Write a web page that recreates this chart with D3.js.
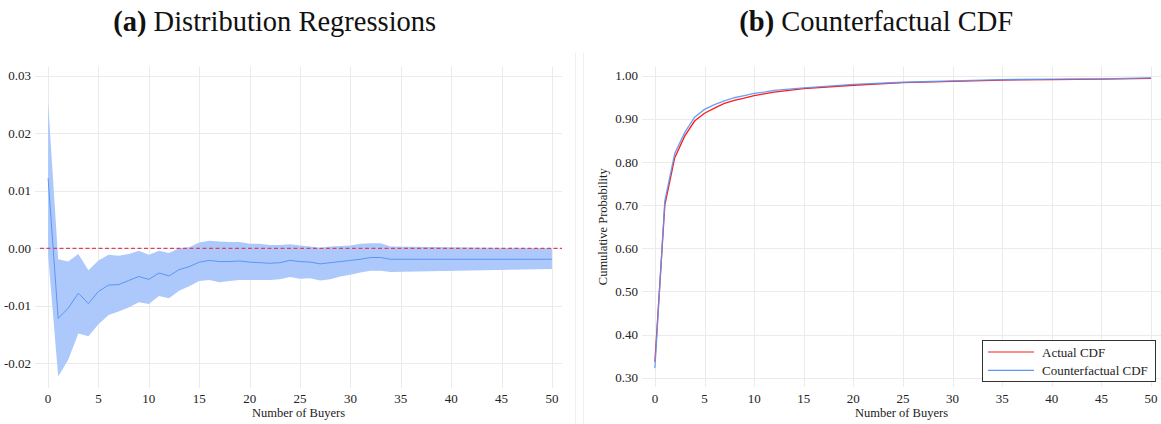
<!DOCTYPE html>
<html>
<head>
<meta charset="utf-8">
<script src="https://cdn.jsdelivr.net/npm/d3@7"></script>
<style>
  body { margin: 0; background: #fff; }
  svg { display: block; font-family: "Liberation Serif", "Times New Roman", serif; }
  .grid line { stroke: #ebebeb; stroke-width: 1; }
  .tick-label { font-size: 13px; fill: #222; }
  .axis-title { font-size: 12.5px; fill: #222; }
  .title { font-size: 28.5px; fill: #111; }
</style>
</head>
<body>
<svg id="chart" width="1161" height="424"></svg>
<script>
/*
 * Data
 */

// (a) Distribution regressions: buyers, estimate, 95% band
var REG_BUYERS = [0, 1, 2, 3, 4, 5, 6, 7, 8, 9, 10, 11, 12, 13, 14, 15, 16, 17,
  18, 19, 20, 21, 22, 23, 24, 25, 26, 27, 28, 29, 30, 31, 32, 33, 34, 50];
var REG_EST = [0.0122, -0.0122, -0.0104, -0.0078, -0.0096, -0.0075, -0.0064,
  -0.0063, -0.0056, -0.0049, -0.0054, -0.0043, -0.0048, -0.0037, -0.0032,
  -0.0024, -0.0021, -0.0023, -0.0023, -0.0022, -0.0024, -0.0025, -0.0026,
  -0.0025, -0.0021, -0.0023, -0.0024, -0.0027, -0.0025, -0.0023, -0.0021,
  -0.0019, -0.0016, -0.0016, -0.0019, -0.0019];
var REG_UPPER = [0.0255, -0.0019, -0.0023, -0.0010, -0.0038, -0.0021, -0.0011,
  -0.0013, -0.0010, -0.0004, -0.0011, -0.0004, -0.0008, 0.0000, 0.0002,
  0.0010, 0.0013, 0.0012, 0.0011, 0.0011, 0.0008, 0.0008, 0.0006, 0.0006,
  0.0007, 0.0005, 0.0003, 0.0001, 0.0003, 0.0004, 0.0005, 0.0008, 0.0009,
  0.0009, 0.0003, 0.0000];
var REG_LOWER = [-0.0012, -0.0223, -0.0194, -0.0148, -0.0153, -0.0132, -0.0116,
  -0.0110, -0.0103, -0.0094, -0.0097, -0.0083, -0.0087, -0.0074, -0.0066,
  -0.0057, -0.0055, -0.0059, -0.0057, -0.0055, -0.0055, -0.0055, -0.0055,
  -0.0054, -0.0050, -0.0053, -0.0052, -0.0056, -0.0054, -0.0049, -0.0046,
  -0.0042, -0.0039, -0.0039, -0.0041, -0.0036];

// (b) Counterfactual CDF
var CDF_BUYERS = [0, 1, 2, 3, 4, 5, 6, 7, 8, 9, 10, 11, 12, 15, 20, 25, 30, 35,
  40, 45, 50];
var CDF_ACTUAL = [0.337, 0.700, 0.810, 0.860, 0.895, 0.913, 0.925, 0.936,
  0.943, 0.948, 0.954, 0.958, 0.962, 0.970, 0.978, 0.984, 0.987, 0.990,
  0.991, 0.992, 0.994];
var CDF_COUNTER = [0.322, 0.710, 0.820, 0.868, 0.904, 0.922, 0.933, 0.942,
  0.949, 0.954, 0.959, 0.962, 0.966, 0.972, 0.980, 0.985, 0.988, 0.991,
  0.992, 0.993, 0.995];

// Ticks
var X_TICKS = [0, 5, 10, 15, 20, 25, 30, 35, 40, 45, 50];
var REG_Y_TICKS = [-0.02, -0.01, 0.00, 0.01, 0.02, 0.03];
var CDF_Y_TICKS = [0.30, 0.40, 0.50, 0.60, 0.70, 0.80, 0.90, 1.00];

var LEGEND_LABELS = ["Actual CDF", "Counterfactual CDF"];

/*
 * Style constants
 */
var RED = "#ff1a1a";
var BLUE = "#5b95f5";
var BAND = "#adc9fb";
var ZERO_LINE = "#d9435e";

var svg = d3.select("#chart");

// panel separators
svg.append("line").attr("x1", 575.5).attr("x2", 575.5).attr("y1", 53).attr("y2", 424)
  .attr("stroke", "#efefef");
svg.append("line").attr("x1", 583.5).attr("x2", 583.5).attr("y1", 53).attr("y2", 424)
  .attr("stroke", "#efefef");

function draw_panel(opts) {
  var x = d3.scaleLinear().domain([-1.3, 51.0]).range(opts.xrange);
  var y = d3.scaleLinear().domain(opts.ydomain).range(opts.yrange);
  var g = svg.append("g");

  // grid
  var grid = g.append("g").attr("class", "grid");
  grid.selectAll(".h").data(opts.yticks).enter().append("line")
    .attr("x1", opts.xrange[0]).attr("x2", opts.xrange[1])
    .attr("y1", function (d) { return Math.round(y(d)) + 0.5; })
    .attr("y2", function (d) { return Math.round(y(d)) + 0.5; });
  grid.selectAll(".v").data(X_TICKS).enter().append("line")
    .attr("y1", opts.yrange[1]).attr("y2", opts.yrange[0])
    .attr("x1", function (d) { return Math.round(x(d)) + 0.5; })
    .attr("x2", function (d) { return Math.round(x(d)) + 0.5; });

  // tick labels
  g.selectAll(".ylab").data(opts.yticks).enter().append("text")
    .attr("class", "tick-label")
    .attr("x", opts.xrange[0] - 4)
    .attr("y", function (d) { return y(d); })
    .attr("dy", "0.35em")
    .attr("text-anchor", "end")
    .text(opts.yfmt);
  g.selectAll(".xlab").data(X_TICKS).enter().append("text")
    .attr("class", "tick-label")
    .attr("x", function (d) { return x(d); })
    .attr("y", 403)
    .attr("text-anchor", "middle")
    .text(function (d) { return d; });

  // axis title
  g.append("text").attr("class", "axis-title")
    .attr("x", (opts.xrange[0] + opts.xrange[1]) / 2)
    .attr("y", 417)
    .attr("text-anchor", "middle")
    .text("Number of Buyers");

  // panel title
  var t = g.append("text").attr("class", "title")
    .attr("x", opts.title_x).attr("y", 31)
    .attr("text-anchor", "middle");
  t.append("tspan").attr("font-weight", "bold").text(opts.tag);
  t.append("tspan").text(" " + opts.title);

  return { g: g, x: x, y: y };
}

/*
 * (a) Distribution Regressions
 */
var A = draw_panel({
  xrange: [35, 562],
  ydomain: [-0.0243, 0.0316],
  yrange: [388, 66.7],
  yticks: REG_Y_TICKS,
  yfmt: function (d) { return d3.format(".2f")(d).replace("−", "-"); },
  title_x: 274.7,
  tag: "(a)",
  title: "Distribution Regressions"
});

var band = d3.area()
  .x(function (d, i) { return A.x(REG_BUYERS[i]); })
  .y0(function (d, i) { return A.y(REG_LOWER[i]); })
  .y1(function (d, i) { return A.y(REG_UPPER[i]); });
A.g.append("path").datum(REG_BUYERS)
  .attr("d", band)
  .attr("fill", BAND)
  .attr("stroke", "none");

A.g.append("line")
  .attr("x1", 40).attr("x2", 562)
  .attr("y1", A.y(0)).attr("y2", A.y(0))
  .attr("stroke", ZERO_LINE)
  .attr("stroke-width", 1.3)
  .attr("stroke-dasharray", "4,2.5");

var est_line = d3.line()
  .x(function (d, i) { return A.x(REG_BUYERS[i]); })
  .y(function (d) { return A.y(d); });
A.g.append("path").datum(REG_EST)
  .attr("d", est_line)
  .attr("fill", "none")
  .attr("stroke", BLUE)
  .attr("stroke-width", 1);

/*
 * (b) Counterfactual CDF
 */
var B = draw_panel({
  xrange: [642, 1161],
  ydomain: [0.279, 1.021],
  yrange: [386.7, 66.7],
  yticks: CDF_Y_TICKS,
  yfmt: d3.format(".2f"),
  title_x: 876.3,
  tag: "(b)",
  title: "Counterfactual CDF"
});

B.g.append("text").attr("class", "axis-title")
  .attr("transform", "translate(607," + ((66.7 + 386.7) / 2) + ") rotate(-90)")
  .attr("text-anchor", "middle")
  .text("Cumulative Probability");

var cdf_line = d3.line()
  .x(function (d, i) { return B.x(CDF_BUYERS[i]); })
  .y(function (d) { return B.y(d); });
B.g.append("path").datum(CDF_ACTUAL)
  .attr("d", cdf_line)
  .attr("fill", "none")
  .attr("stroke", RED)
  .attr("stroke-width", 1.3);
B.g.append("path").datum(CDF_COUNTER)
  .attr("d", cdf_line)
  .attr("fill", "none")
  .attr("stroke", BLUE)
  .attr("stroke-width", 1.3)
  .attr("stroke-opacity", 0.9);

// legend
var leg = B.g.append("g").attr("transform", "translate(982,340)");
leg.append("rect")
  .attr("x", 0.5).attr("y", 0.5)
  .attr("width", 173).attr("height", 41)
  .attr("fill", "#fff")
  .attr("stroke", "#333");
var leg_items = leg.selectAll(".item").data(LEGEND_LABELS).enter().append("g")
  .attr("transform", function (d, i) { return "translate(0," + (12 + i * 18.3) + ")"; });
leg_items.append("line")
  .attr("x1", 6).attr("x2", 52)
  .attr("stroke", function (d, i) { return i == 0 ? RED : BLUE; })
  .attr("stroke-width", 1.2);
leg_items.append("text")
  .attr("class", "tick-label")
  .attr("x", 60).attr("dy", "0.35em")
  .text(function (d) { return d; });
</script>
</body>
</html>
